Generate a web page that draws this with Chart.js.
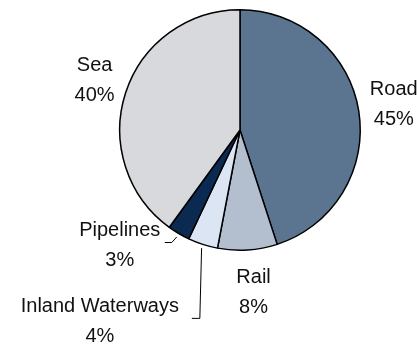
<!DOCTYPE html>
<html>
<head>
<meta charset="utf-8">
<script src="https://cdn.jsdelivr.net/npm/chart.js@4/dist/chart.umd.min.js"></script>
<style>
  html, body { margin: 0; padding: 0; background: #fff; }
  #wrap { width: 417px; height: 347px; position: relative; }
</style>
</head>
<body>
<div id="wrap"><canvas id="grafico"></canvas></div>
<script>
// Dados do gráfico (percentuais por modo de transporte)
const categorias = ['Road', 'Rail', 'Inland Waterways', 'Pipelines', 'Sea'];
const valores = [45, 8, 4, 3, 40];
const rotulosPct = ['45%', '8%', '4%', '3%', '40%'];

const cores = ['#5b7590', '#b3bfcf', '#dce5f4', '#0b2a52', '#d8d9dd'];

// Deslocamento dos rótulos a partir da borda da fatia (estilo, não dados)
const deslocRotulo = [[35, -16], [6, 33], [-103, 68], [-59, 2], [-31, -22]];
// Linhas-guia: [cotovelo, fim] relativos ao rótulo, null = sem linha
const linhasGuia = [null, null, [[100, 6], [92, 6]], [[52, 7], [45, 7]], null];

const pluginRotulos = {
    id: 'rotulos',
    afterDatasetsDraw(chart) {
        const ctx = chart.ctx;
        const arcos = chart.getDatasetMeta(0).data;
        ctx.save();
        ctx.font = '20px "Liberation Sans", Arial, sans-serif';
        ctx.fillStyle = '#111';
        ctx.textAlign = 'center';
        ctx.textBaseline = 'alphabetic';
        ctx.strokeStyle = '#000';
        ctx.lineWidth = 1;
        arcos.forEach((arco, i) => {
            const meio = (arco.startAngle + arco.endAngle) / 2;
            const bx = arco.x + Math.cos(meio) * arco.outerRadius;
            const by = arco.y + Math.sin(meio) * arco.outerRadius;
            const lx = bx + deslocRotulo[i][0];
            const ly = by + deslocRotulo[i][1];
            ctx.fillText(categorias[i], lx, ly);
            ctx.fillText(rotulosPct[i], lx, ly + 30);
            const guia = linhasGuia[i];
            if (guia) {
                const sx = arco.x + Math.cos(meio) * (arco.outerRadius + 4);
                const sy = arco.y + Math.sin(meio) * (arco.outerRadius + 4);
                ctx.beginPath();
                ctx.moveTo(sx, sy);
                ctx.lineTo(lx + guia[0][0], ly + guia[0][1]);
                ctx.lineTo(lx + guia[1][0], ly + guia[1][1]);
                ctx.stroke();
            }
        });
        ctx.restore();
    }
};

new Chart(document.getElementById('grafico'), {
    type: 'pie',
    data: {
        labels: categorias,
        datasets: [{
            data: valores,
            backgroundColor: cores,
            borderColor: '#000',
            borderWidth: 1.5
        }]
    },
    options: {
        responsive: true,
        maintainAspectRatio: false,
        animation: false,
        layout: { padding: { left: 119, right: 56, top: 9, bottom: 96 } },
        plugins: {
            legend: { display: false },
            tooltip: { enabled: false }
        }
    },
    plugins: [pluginRotulos]
});
</script>
</body>
</html>
